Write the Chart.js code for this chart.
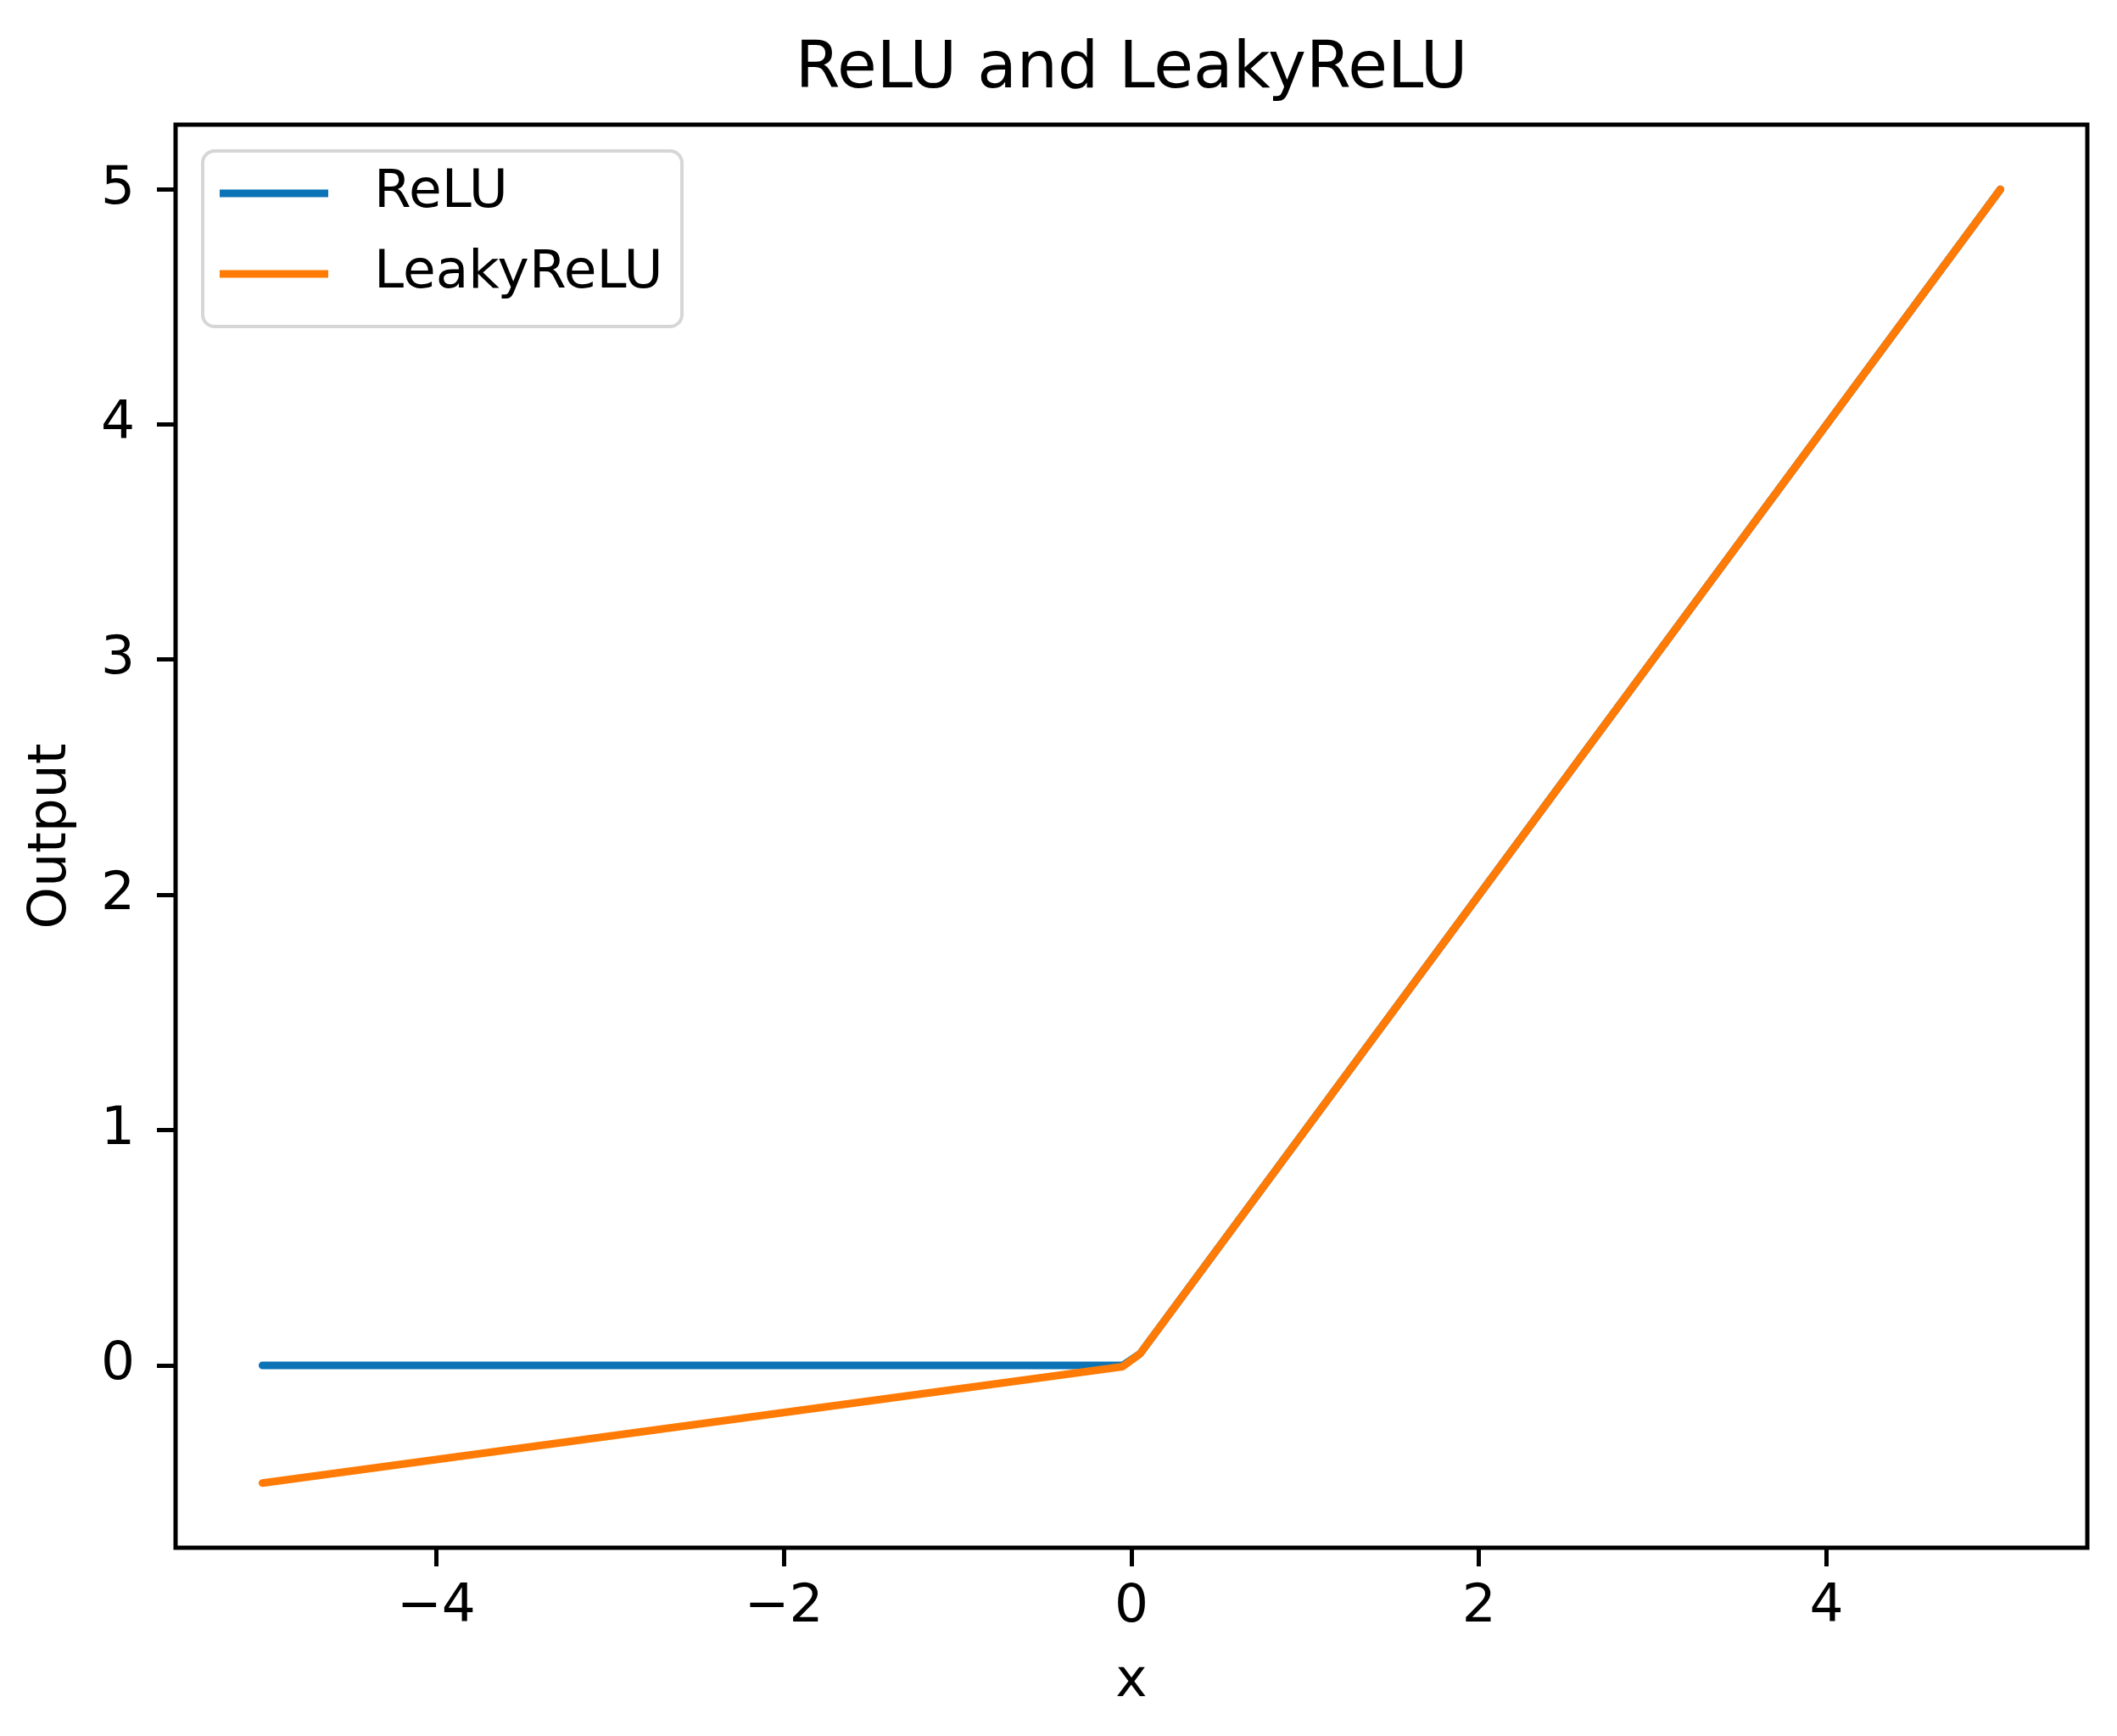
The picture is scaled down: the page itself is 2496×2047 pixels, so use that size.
<!DOCTYPE html>
<html>
<head>
<meta charset="utf-8">
<script src="https://cdn.jsdelivr.net/npm/chart.js@4.4.1/dist/chart.umd.min.js"></script>
<style>
  html, body { margin: 0; padding: 0; background: #ffffff; }
  canvas { display: block; }
</style>
</head>
<body>
<canvas id="grafico" width="2496" height="2047"></canvas>
<script>
// dados
const xValores = [-5, -0.05, 0.05, 5];
const reluValores = [0, 0, 0.05, 5];
const leakyValores = [-0.5, -0.005, 0.05, 5];

const xTicks = [-4, -2, 0, 2, 4];
const xTickLabels = ['\u22124', '\u22122', '0', '2', '4'];
const yTicks = [0, 1, 2, 3, 4, 5];
const yTickLabels = ['0', '1', '2', '3', '4', '5'];

const nomesSeries = ['ReLU', 'LeakyReLU'];
const coresSeries = ['#0c74b6', '#ff7b05'];
const titulo = 'ReLU and LeakyReLU';

const fonte = 'DejaVu Sans';

function pontos(ys) {
  return xValores.map((x, i) => ({ x: x, y: ys[i] }));
}

// moldura completa dos eixos (estilo matplotlib)
const moldura = {
  id: 'moldura',
  afterDatasetsDraw(chart) {
    const { ctx, chartArea: a } = chart;
    ctx.save();
    ctx.strokeStyle = '#000000';
    ctx.lineWidth = 5;
    ctx.strokeRect(a.left, a.top, a.right - a.left, a.bottom - a.top);
    ctx.restore();
  }
};

// título centrado sobre a área dos eixos
const tituloEixos = {
  id: 'tituloEixos',
  afterDraw(chart) {
    const { ctx, chartArea: a } = chart;
    ctx.save();
    ctx.font = '76px "' + fonte + '"';
    ctx.fillStyle = '#000000';
    ctx.textAlign = 'center';
    ctx.textBaseline = 'alphabetic';
    ctx.fillText(titulo, (a.left + a.right) / 2, a.top - 44);
    ctx.restore();
  }
};

// legenda dentro da área do gráfico
const legendaInterna = {
  id: 'legendaInterna',
  afterDraw(chart) {
    const { ctx, chartArea: a } = chart;
    const x0 = a.left + 32, y0 = a.top + 31;
    const w = 565, h = 207;
    ctx.save();
    ctx.beginPath();
    ctx.roundRect(x0, y0, w, h, 14);
    ctx.fillStyle = 'rgba(255,255,255,0.8)';
    ctx.fill();
    ctx.strokeStyle = '#d6d6d6';
    ctx.lineWidth = 4;
    ctx.stroke();

    ctx.font = '63px "' + fonte + '"';
    ctx.textBaseline = 'middle';
    ctx.textAlign = 'left';
    chart.data.datasets.forEach((ds, i) => {
      const yy = y0 + 50 + i * 95;
      ctx.strokeStyle = ds.borderColor;
      ctx.lineWidth = 9;
      ctx.lineCap = 'butt';
      ctx.beginPath();
      ctx.moveTo(x0 + 20, yy);
      ctx.lineTo(x0 + 148, yy);
      ctx.stroke();
      ctx.fillStyle = '#000000';
      ctx.fillText(ds.label, x0 + 202, yy);
    });
    ctx.restore();
  }
};

const ctx = document.getElementById('grafico').getContext('2d');

new Chart(ctx, {
  type: 'line',
  data: {
    datasets: [
      {
        label: nomesSeries[0],
        data: pontos(reluValores),
        borderColor: coresSeries[0],
        backgroundColor: coresSeries[0],
        borderWidth: 9,
        pointRadius: 0,
        tension: 0,
        order: 1
      },
      {
        label: nomesSeries[1],
        data: pontos(leakyValores),
        borderColor: coresSeries[1],
        backgroundColor: coresSeries[1],
        borderWidth: 9,
        pointRadius: 0,
        tension: 0,
        order: 0
      }
    ]
  },
  options: {
    responsive: false,
    animation: false,
    layout: { padding: { left: 0, right: 35, top: 147, bottom: 0 } },
    plugins: {
      legend: { display: false },
      tooltip: { enabled: false },
      title: { display: false }
    },
    elements: {
      line: { borderCapStyle: 'round', borderJoinStyle: 'round' }
    },
    scales: {
      x: {
        type: 'linear',
        min: -5.5,
        max: 5.5,
        afterBuildTicks(scale) {
          scale.ticks = xTicks.map(v => ({ value: v }));
        },
        afterFit(scale) {
          scale.height = 222;
        },
        ticks: {
          color: '#000000',
          font: { family: fonte, size: 63 },
          padding: 11,
          maxRotation: 0,
          callback: (v) => xTickLabels[xTicks.indexOf(v)]
        },
        grid: {
          drawOnChartArea: false,
          drawTicks: true,
          tickLength: 22,
          tickWidth: 5,
          tickColor: '#000000'
        },
        border: { display: false },
        title: {
          display: true,
          text: 'x',
          color: '#000000',
          font: { family: fonte, size: 63 },
          padding: { top: 0, bottom: 26 }
        }
      },
      y: {
        type: 'linear',
        min: -0.775,
        max: 5.275,
        afterBuildTicks(scale) {
          scale.ticks = yTicks.map(v => ({ value: v }));
        },
        afterFit(scale) {
          scale.width = 207;
        },
        ticks: {
          color: '#000000',
          font: { family: fonte, size: 63 },
          padding: 26,
          callback: (v) => yTickLabels[yTicks.indexOf(v)]
        },
        grid: {
          drawOnChartArea: false,
          drawTicks: true,
          tickLength: 22,
          tickWidth: 5,
          tickColor: '#000000'
        },
        border: { display: false },
        title: {
          display: true,
          text: 'Output',
          color: '#000000',
          font: { family: fonte, size: 63 },
          padding: { top: 23, bottom: 0 }
        }
      }
    }
  },
  plugins: [moldura, tituloEixos, legendaInterna]
});
</script>
</body>
</html>
